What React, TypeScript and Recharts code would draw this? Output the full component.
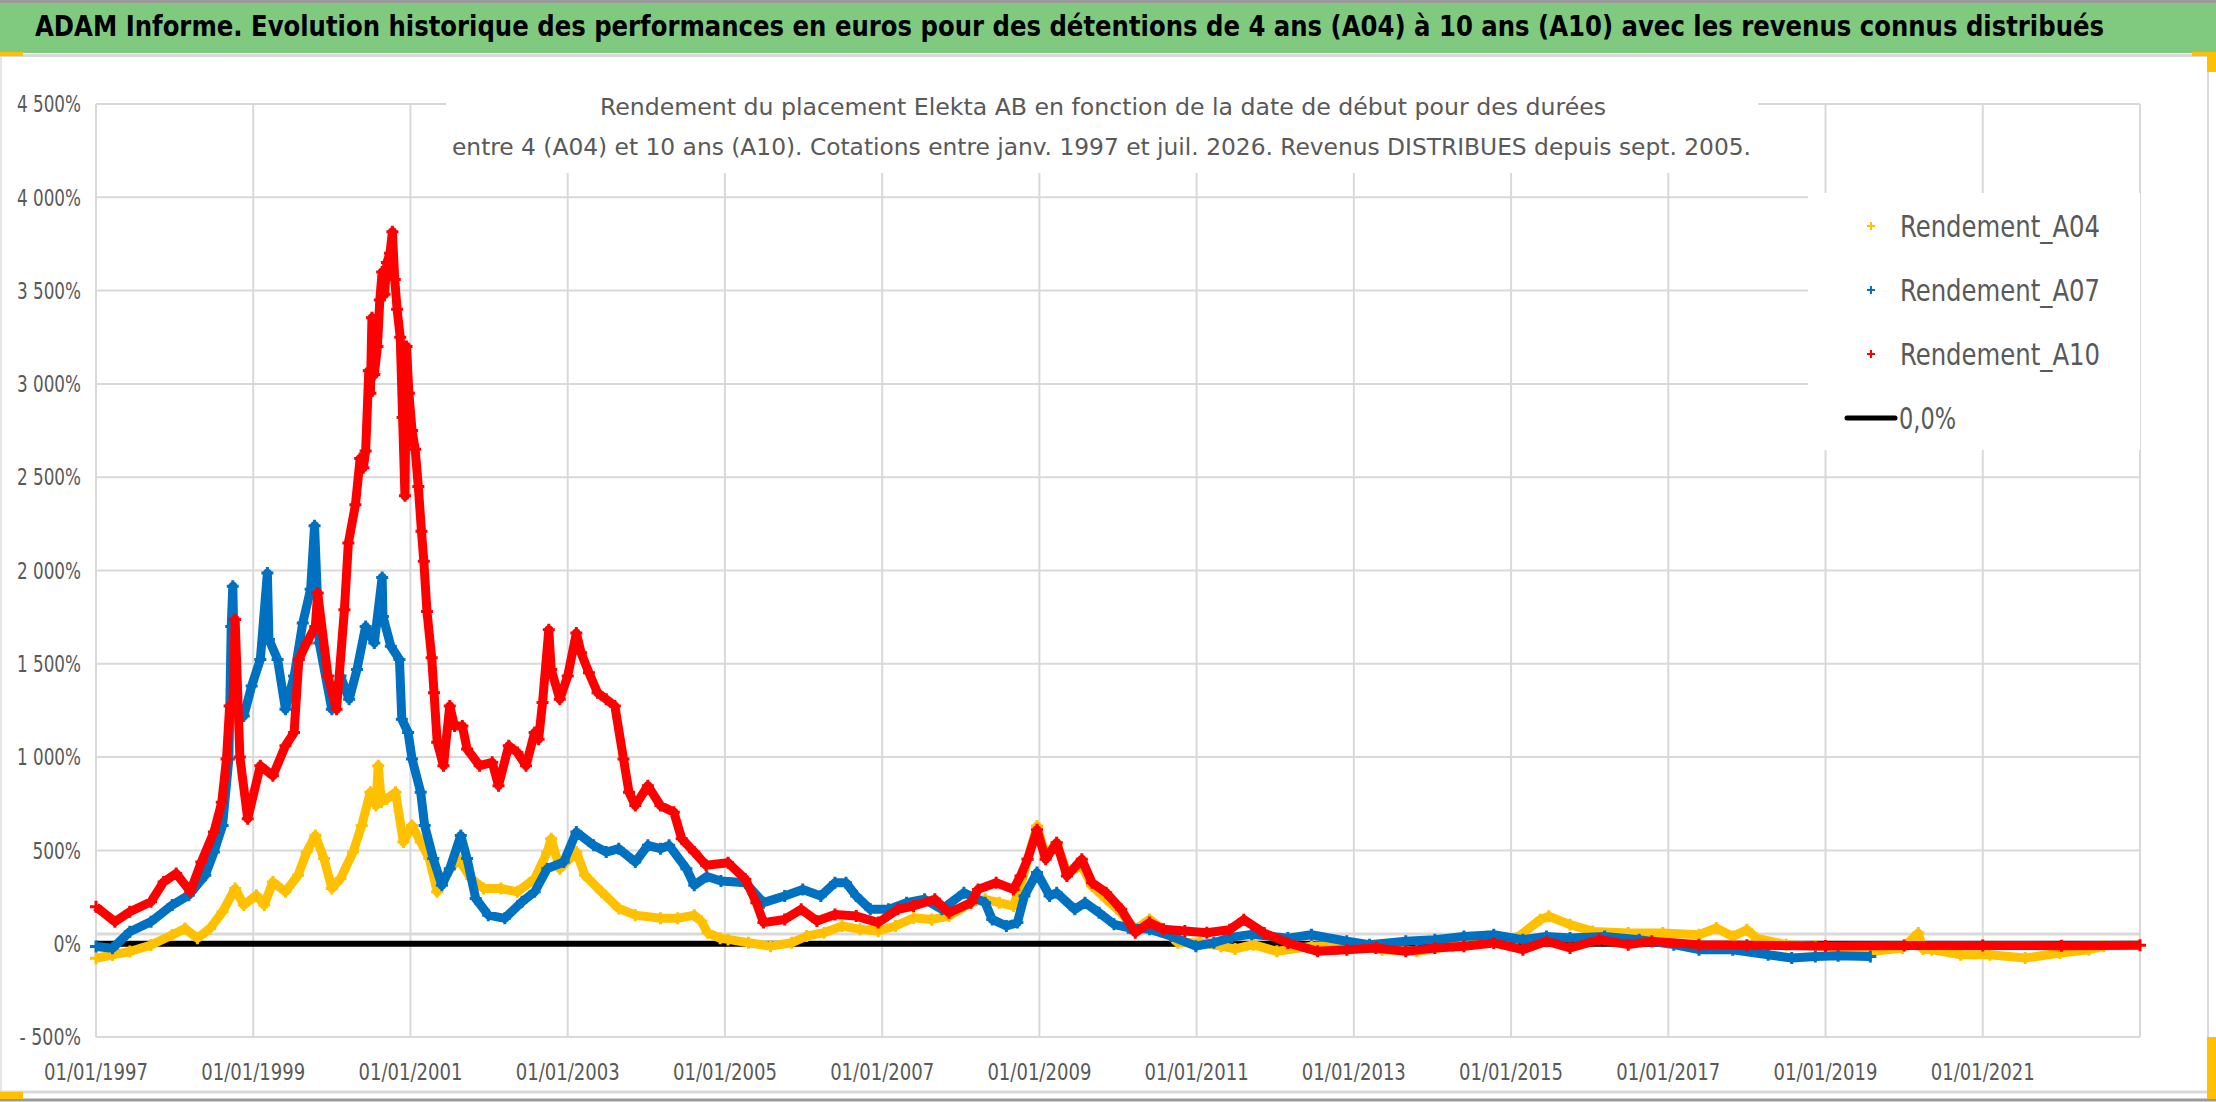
import React from "react";
import { ComposedChart, Scatter, XAxis, YAxis, CartesianGrid, ReferenceLine, Legend } from "recharts";

document.body.style.margin = "0";

const W = 2216;
const H = 1102;
const FONT = "'Liberation Sans Narrow', 'DejaVu Sans Condensed', 'Liberation Sans', Arial, sans-serif";
const GREY_TEXT = "#595959";
const GRID = "#d9d9d9";

const titleText =
  "ADAM Informe. Evolution historique des performances en euros pour des détentions de 4 ans (A04) à 10 ans (A10) avec les revenus connus distribués";
const subtitleLines = [
  "Rendement du placement Elekta AB en fonction de la date de début pour des durées",
  "entre 4 (A04) et 10 ans (A10). Cotations entre janv. 1997 et juil. 2026. Revenus DISTRIBUES depuis sept. 2005.",
];

const xTicks = [1997, 1999, 2001, 2003, 2005, 2007, 2009, 2011, 2013, 2015, 2017, 2019, 2021];
const yTicks = [-500, 0, 500, 1000, 1500, 2000, 2500, 3000, 3500, 4000, 4500];

// [date as decimal year, return in %]
const rendementA04: [number, number][] = [
  [1997.0, -78], [1997.21, -60], [1997.43, -42], [1997.7, -7], [1997.97, 47], [1998.13, 82],
  [1998.29, 29], [1998.45, 82], [1998.61, 171], [1998.77, 296], [1998.88, 207], [1999.04, 260],
  [1999.14, 207], [1999.25, 331], [1999.41, 278], [1999.57, 367], [1999.68, 491], [1999.79, 580],
  [1999.9, 456], [2000.0, 296], [2000.11, 349], [2000.27, 491], [2000.38, 634], [2000.49, 812],
  [2000.56, 740], [2000.59, 954], [2000.63, 760], [2000.7, 776], [2000.81, 812], [2000.91, 545],
  [2001.02, 634], [2001.13, 545], [2001.24, 456], [2001.34, 278], [2001.45, 367], [2001.61, 456],
  [2001.77, 349], [2001.93, 296], [2002.15, 296], [2002.36, 278], [2002.58, 349], [2002.74, 491],
  [2002.79, 563], [2002.9, 402], [2003.11, 491], [2003.22, 367], [2003.43, 278], [2003.65, 189],
  [2003.86, 153], [2004.18, 136], [2004.4, 136], [2004.61, 153], [2004.7, 120], [2004.78, 59],
  [2004.94, 29], [2005.04, 23], [2005.3, 5], [2005.58, -13], [2005.85, 5], [2006.04, 41],
  [2006.26, 59], [2006.49, 95], [2006.72, 77], [2006.95, 68], [2007.17, 95], [2007.4, 139],
  [2007.63, 130], [2007.85, 148], [2008.13, 220], [2008.31, 238], [2008.49, 220], [2008.67, 202],
  [2008.76, 309], [2008.85, 452], [2008.97, 631], [2009.08, 470], [2009.22, 541], [2009.35, 381],
  [2009.54, 416], [2009.67, 309], [2009.85, 238], [2010.04, 166], [2010.22, 77], [2010.4, 130],
  [2010.58, 77], [2010.76, 5], [2011.04, 5], [2011.31, -13], [2011.49, -28], [2011.72, -5],
  [2012.02, -41], [2012.46, -14], [2012.91, -5], [2013.36, -32], [2013.8, -41], [2014.25, -14],
  [2014.7, 39], [2015.07, 30], [2015.37, 129], [2015.48, 147], [2015.75, 102], [2016.04, 66],
  [2016.49, 57], [2016.93, 57], [2017.39, 48], [2017.61, 84], [2017.82, 39], [2018.0, 75],
  [2018.12, 30], [2018.5, -5], [2018.87, -14], [2019.24, -23], [2019.61, -41], [2019.98, -23],
  [2020.18, 57], [2020.24, -28], [2020.35, -32], [2020.72, -59], [2021.09, -59], [2021.54, -77],
  [2021.98, -50], [2022.35, -32], [2022.54, -14],
];

const rendementA07: [number, number][] = [
  [1997.0, -15], [1997.21, -24], [1997.43, 64], [1997.7, 118], [1997.97, 207], [1998.18, 260],
  [1998.39, 367], [1998.5, 491], [1998.61, 634], [1998.69, 990], [1998.72, 1700], [1998.74, 1915],
  [1998.77, 1300], [1998.88, 1220], [1998.98, 1381], [1999.09, 1523], [1999.18, 1986], [1999.2, 1630],
  [1999.31, 1523], [1999.41, 1256], [1999.52, 1434], [1999.63, 1719], [1999.73, 1900], [1999.78, 2240],
  [1999.84, 1612], [2000.0, 1256], [2000.11, 1434], [2000.22, 1310], [2000.32, 1470], [2000.43, 1700],
  [2000.54, 1612], [2000.64, 1963], [2000.65, 1754], [2000.75, 1594], [2000.86, 1523], [2000.89, 1203],
  [2000.97, 1132], [2001.02, 990], [2001.13, 812], [2001.18, 634], [2001.29, 456], [2001.4, 313],
  [2001.5, 402], [2001.64, 580], [2001.72, 456], [2001.83, 242], [2001.99, 153], [2002.2, 136],
  [2002.42, 225], [2002.58, 278], [2002.74, 402], [2002.95, 438], [2003.11, 598], [2003.33, 527],
  [2003.49, 491], [2003.65, 509], [2003.86, 438], [2004.02, 527], [2004.18, 509], [2004.29, 527],
  [2004.51, 402], [2004.61, 313], [2004.77, 360], [2004.95, 336], [2005.26, 327], [2005.49, 220],
  [2005.76, 256], [2005.99, 291], [2006.22, 256], [2006.4, 327], [2006.54, 327], [2006.67, 256],
  [2006.85, 184], [2007.08, 184], [2007.31, 220], [2007.54, 238], [2007.76, 184], [2008.04, 273],
  [2008.31, 220], [2008.4, 130], [2008.58, 95], [2008.72, 113], [2008.81, 256], [2008.97, 381],
  [2009.13, 256], [2009.22, 273], [2009.45, 184], [2009.58, 220], [2009.76, 166], [2009.95, 104],
  [2010.13, 86], [2010.4, 77], [2010.67, 41], [2010.99, -13], [2011.22, 5], [2011.45, 35],
  [2011.7, 50], [2012.16, 30], [2012.46, 48], [2012.91, 13], [2013.2, -5], [2013.66, 13],
  [2014.03, 21], [2014.4, 39], [2014.78, 48], [2015.15, 21], [2015.45, 39], [2015.75, 30],
  [2016.19, 39], [2016.63, 21], [2017.07, -5], [2017.39, -32], [2017.82, -32], [2018.27, -59],
  [2018.57, -77], [2018.87, -68], [2019.16, -64], [2019.57, -68],
];

const rendementA10: [number, number][] = [
  [1997.0, 198], [1997.24, 118], [1997.43, 171], [1997.7, 225], [1997.86, 331], [1998.02, 376],
  [1998.2, 280], [1998.34, 438], [1998.5, 598], [1998.6, 758], [1998.66, 990], [1998.7, 1274],
  [1998.74, 1250], [1998.77, 1737], [1998.83, 1000], [1998.93, 670], [1999.09, 954], [1999.25, 900],
  [1999.41, 1061], [1999.52, 1132], [1999.58, 1523], [1999.68, 1612], [1999.79, 1700], [1999.82, 1879],
  [1999.95, 1434], [2000.06, 1256], [2000.16, 1790], [2000.21, 2147], [2000.3, 2352], [2000.36, 2600],
  [2000.4, 2550], [2000.43, 2640], [2000.47, 3070], [2000.49, 2950], [2000.51, 3355], [2000.54, 3050],
  [2000.58, 3200], [2000.61, 3450], [2000.64, 3600], [2000.67, 3480], [2000.7, 3650], [2000.74, 3700],
  [2000.77, 3816], [2000.8, 3560], [2000.83, 3400], [2000.87, 3250], [2000.9, 2820], [2000.93, 2400],
  [2000.95, 3200], [2000.98, 2950], [2001.02, 2750], [2001.06, 2650], [2001.1, 2450], [2001.14, 2210],
  [2001.17, 2050], [2001.21, 1780], [2001.27, 1533], [2001.3, 1345], [2001.34, 1080], [2001.42, 954],
  [2001.5, 1274], [2001.56, 1167], [2001.66, 1167], [2001.72, 1043], [2001.88, 954], [2002.04, 972],
  [2002.12, 847], [2002.25, 1061], [2002.36, 1025], [2002.47, 954], [2002.58, 1132], [2002.63, 1096],
  [2002.68, 1292], [2002.76, 1683], [2002.79, 1470], [2002.9, 1310], [2003.0, 1434], [2003.11, 1665],
  [2003.17, 1559], [2003.27, 1452], [2003.38, 1345], [2003.49, 1310], [2003.6, 1274], [2003.71, 990],
  [2003.78, 812], [2003.86, 740], [2004.02, 847], [2004.18, 740], [2004.35, 705], [2004.45, 563],
  [2004.61, 491], [2004.76, 420], [2005.04, 434], [2005.26, 345], [2005.4, 220], [2005.49, 113],
  [2005.76, 130], [2005.97, 184], [2006.17, 122], [2006.4, 157], [2006.67, 148], [2006.95, 113],
  [2007.2, 184], [2007.4, 202], [2007.67, 238], [2007.85, 166], [2008.13, 220], [2008.22, 291],
  [2008.45, 327], [2008.67, 291], [2008.76, 363], [2008.85, 452], [2008.97, 610], [2009.08, 452],
  [2009.22, 541], [2009.35, 363], [2009.54, 452], [2009.67, 327], [2009.85, 273], [2010.04, 184],
  [2010.22, 59], [2010.4, 113], [2010.58, 77], [2010.85, 68], [2011.13, 59], [2011.42, 75],
  [2011.6, 129], [2011.86, 57], [2012.16, 4], [2012.54, -41], [2012.91, -32], [2013.28, -23],
  [2013.66, -41], [2014.03, -23], [2014.4, -14], [2014.78, 4], [2015.15, -32], [2015.45, 13],
  [2015.75, -23], [2016.12, 21], [2016.49, -5], [2016.79, 13], [2017.39, -5], [2018.0, -8],
  [2019.0, -12], [2020.0, -10], [2021.0, -9], [2022.0, -11], [2023.0, -8],
];

const zeroLine: [number, number][] = [[1997, 0], [2023, 0]];

const series = [
  { name: "Rendement_A04", color: "#FFC000", rows: rendementA04 },
  { name: "Rendement_A07", color: "#0070C0", rows: rendementA07 },
  { name: "Rendement_A10", color: "#FF0000", rows: rendementA10 },
];

const toPoints = (rows: [number, number][]) => rows.map(([x, y]) => ({ x, y }));

const formatPct = (v: number) => {
  const abs = Math.abs(v);
  const s = abs >= 1000 ? `${Math.floor(abs / 1000)} ${String(abs % 1000).padStart(3, "0")}` : String(abs);
  return `${v < 0 ? "- " : ""}${s}%`;
};

// rough width of an axis label in the original condensed font
const pctWidth = (v: number) => {
  const digits = String(Math.abs(v)).length;
  return digits * 10.5 + (Math.abs(v) >= 1000 ? 5 : 0) + 17 + (v < 0 ? 13 : 0);
};

const Cross = (props: any) => {
  const { cx, cy, color } = props;
  if (cx == null || cy == null) return <g />;
  return <path d={`M${cx - 6},${cy}H${cx + 6}M${cx},${cy - 6}V${cy + 6}`} stroke={color} strokeWidth={3} />;
};

const XTick = (props: any) => {
  const { x, y, payload } = props;
  return (
    <text x={x} y={y + 35} textAnchor="middle" fontFamily={FONT} fontSize={23} fill={GREY_TEXT}
      textLength={104} lengthAdjust="spacingAndGlyphs">
      {`01/01/${payload.value}`}
    </text>
  );
};

const YTick = (props: any) => {
  const { x, y, payload } = props;
  return (
    <text x={x - 7} y={y} dy="0.36em" textAnchor="end" fontFamily={FONT} fontSize={23} fill={GREY_TEXT}
      textLength={pctWidth(payload.value)} lengthAdjust="spacingAndGlyphs">
      {formatPct(payload.value)}
    </text>
  );
};

const LegendBox = (props: any) => {
  const payload = [...(props.payload || [])];
  payload.sort((a: any, b: any) => (a.type === "line" ? 1 : 0) - (b.type === "line" ? 1 : 0));
  return (
    <svg width={332} height={257}>
      <rect width={332} height={257} fill="#fff" />
      {payload.map((it: any, i: number) => {
        const cy = 33 + i * 64;
        if (it.type === "line") {
          return (
            <g key={it.value}>
              <line x1={39} x2={87} y1={cy} y2={cy} stroke={it.color} strokeWidth={5} strokeLinecap="round" />
              <text x={91} y={cy} dy="0.36em" fontFamily={FONT} fontSize={30} fill={GREY_TEXT}
                textLength={57} lengthAdjust="spacingAndGlyphs">{it.value}</text>
            </g>
          );
        }
        return (
          <g key={it.value}>
            <path d={`M${59},${cy}H${67}M${63},${cy - 4}V${cy + 4}`} stroke={it.color} strokeWidth={2} />
            <text x={92} y={cy} dy="0.36em" fontFamily={FONT} fontSize={30} fill={GREY_TEXT}
              textLength={200} lengthAdjust="spacingAndGlyphs">{it.value}</text>
          </g>
        );
      })}
    </svg>
  );
};

export default function App() {
  return (
    <div style={{ position: "relative", width: W, height: H, background: "#fff", overflow: "hidden" }}>
      <ComposedChart width={W} height={H} margin={{ top: 104, right: 76, bottom: 15, left: 0 }}>
        <CartesianGrid stroke={GRID} strokeWidth={2} />
        <XAxis type="number" dataKey="x" domain={[1997, 2023]} ticks={xTicks} tick={<XTick />}
          axisLine={false} tickLine={false} height={50} interval={0} />
        <YAxis type="number" dataKey="y" domain={[-500, 4500]} ticks={yTicks} tick={<YTick />}
          axisLine={false} tickLine={false} width={96} interval={0} />
        <ReferenceLine y={52} stroke={GRID} strokeWidth={3} />
        <Scatter name="0,0%" data={toPoints(zeroLine)} dataKey="y" fill="#000000" legendType="line"
          line={{ stroke: "#000000", strokeWidth: 6 }} shape={() => <g />} isAnimationActive={false} />
        {series.map((s) => (
          <Scatter key={s.name} name={s.name} data={toPoints(s.rows)} dataKey="y" fill={s.color}
            legendType="cross" line={{ stroke: s.color, strokeWidth: 9, strokeLinejoin: "round" }}
            shape={(p: any) => <Cross {...p} color={s.color} />} isAnimationActive={false} />
        ))}
        <Legend layout="vertical" align="center" verticalAlign="middle" content={<LegendBox />}
          wrapperStyle={{ left: 1808, top: 193, width: 332, height: 257 }} />
      </ComposedChart>

      <svg width={W} height={H} style={{ position: "absolute", left: 0, top: 0, pointerEvents: "none" }}>
        <rect x={0} y={0} width={W} height={3} fill="#9a9a9a" />
        <rect x={0} y={3} width={W} height={50} fill="#7fca7f" />
        <rect x={0} y={54} width={W} height={3} fill="#d9d9d9" />
        <text x={35} y={36} fontFamily={FONT} fontSize={28} fontWeight="bold" fill="#000"
          textLength={2069} lengthAdjust="spacingAndGlyphs">{titleText}</text>

        <rect x={446} y={84} width={1312} height={89} fill="#fff" />
        <text x={600} y={115} fontFamily={FONT} fontSize={23} fill={GREY_TEXT}
          textLength={1006} lengthAdjust="spacingAndGlyphs">{subtitleLines[0]}</text>
        <text x={452} y={155} fontFamily={FONT} fontSize={23} fill={GREY_TEXT}
          textLength={1299} lengthAdjust="spacingAndGlyphs">{subtitleLines[1]}</text>

        <line x1={1} x2={1} y1={57} y2={1092} stroke="#e6e6e6" strokeWidth={2} />
        <line x1={2208} x2={2208} y1={57} y2={1092} stroke={GRID} strokeWidth={2} />
        <line x1={0} x2={2208} y1={1092} y2={1092} stroke={GRID} strokeWidth={3} />
        <line x1={0} x2={W} y1={1100} y2={1100} stroke="#9a9a9a" strokeWidth={3} />

        <rect x={0} y={52} width={23} height={4} fill="#FFC000" />
        <rect x={2192} y={52} width={24} height={4} fill="#FFC000" />
        <rect x={2207} y={52} width={9} height={20} fill="#FFC000" />
        <rect x={0} y={1092} width={23} height={7} fill="#FFC000" />
        <rect x={2207} y={1037} width={9} height={62} fill="#FFC000" />
      </svg>
    </div>
  );
}
